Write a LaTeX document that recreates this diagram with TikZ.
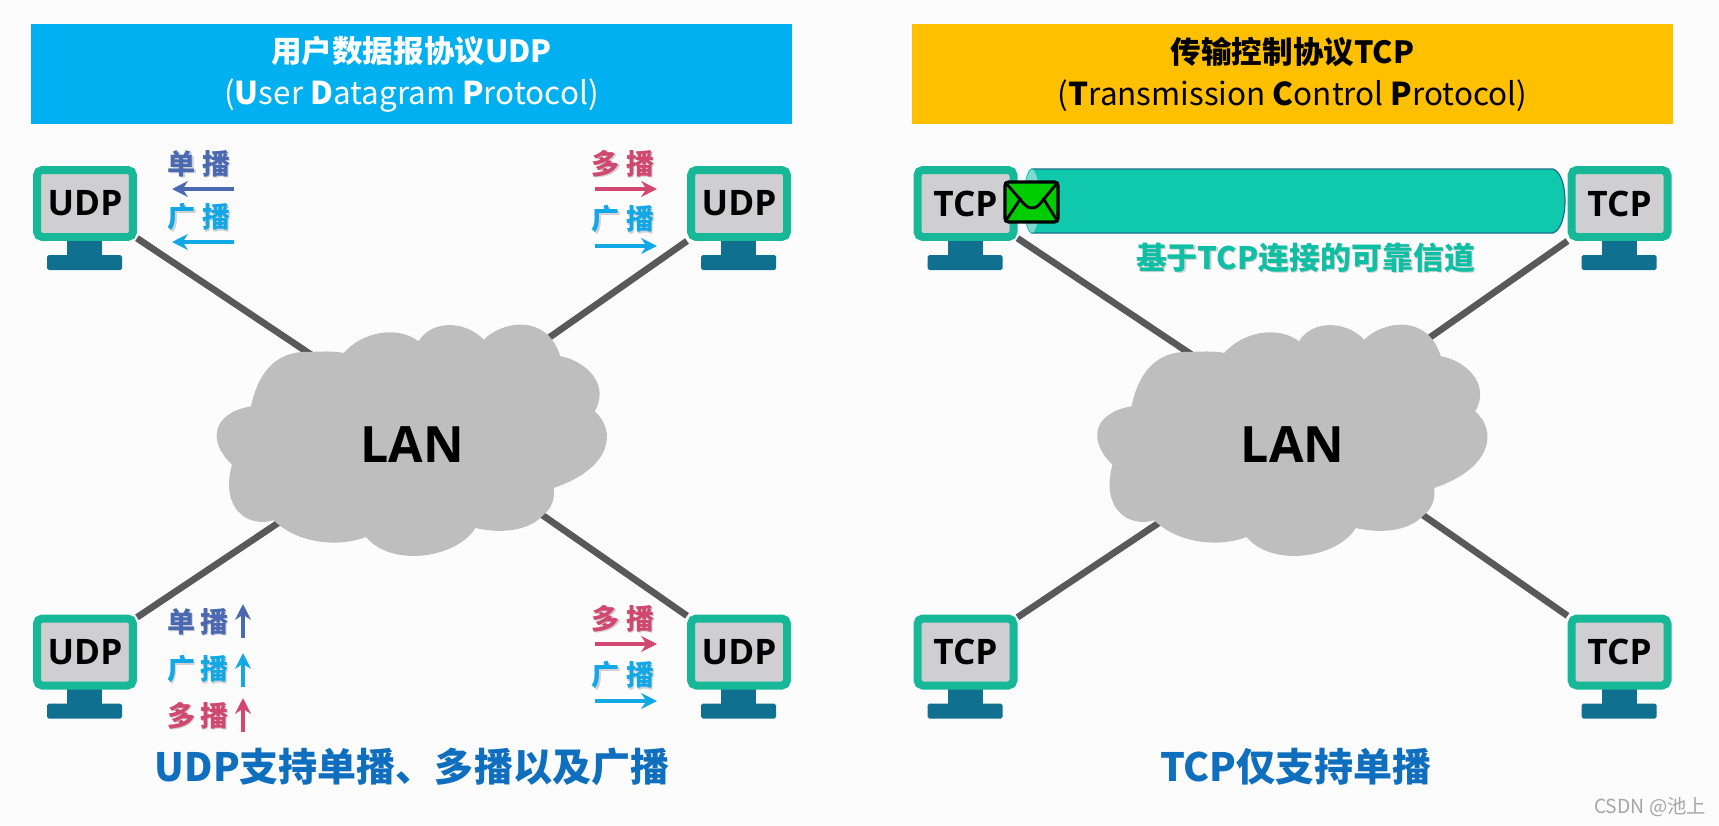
\documentclass[tikz,border=0pt]{standalone}
\usepackage{fontspec}
\setmainfont{Noto Sans CJK SC}
\newfontfamily\latinfont{Open Sans}
\usetikzlibrary{arrows.meta,backgrounds}
\definecolor{bluehead}{HTML}{00B0F0}
\definecolor{yellowhead}{HTML}{FFC000}
\definecolor{screenframe}{HTML}{17B897}
\definecolor{screenfill}{HTML}{CFCFD2}
\definecolor{standfill}{HTML}{0F7090}
\definecolor{linkgray}{HTML}{595959}
\definecolor{cloudgray}{HTML}{BEBEBE}
\definecolor{unicolor}{HTML}{4A69B0}
\definecolor{broadcolor}{HTML}{12A8E6}
\definecolor{multicolor}{HTML}{D0476F}
\definecolor{tubefill}{HTML}{10C9AC}
\definecolor{tubeend}{HTML}{7FD9D0}
\definecolor{tubeline}{HTML}{1B6E8C}
\definecolor{footblue}{HTML}{0F6FBE}
\newcommand{\softtext}[1]{\leavevmode\rlap{\kern.7pt\raisebox{-.7pt}{\textcolor{black!18}{#1}}}#1}
\tikzset{
  banner/.style={minimum width=15.22cm,minimum height=2cm,inner sep=0pt,align=center,
    font=\fontsize{17.9}{24}\selectfont},
  screen/.style={draw=screenframe,fill=screenfill,line width=4.55pt,rounded corners=3pt,
    minimum width=1.92cm,minimum height=1.34cm,inner sep=0pt,text=black,
    font=\latinfont\bfseries\fontsize{20}{20}\selectfont},
  link/.style={draw=linkgray,line width=3.8pt},
  castlabel/.style={inner sep=0pt,font=\bfseries\fontsize{16}{16}\selectfont},
  castarrow/.style={line width=2.4pt,-{Stealth[length=9pt,width=9pt]}},
  footnote/.style={inner sep=0pt,text=footblue,font=\bfseries\fontsize{22.2}{24}\selectfont},
  pics/monitor/.style={code={
    \fill[standfill] (-18,36) rectangle (17,53);
    \fill[standfill,rounded corners=1pt] (-38,51.5) rectangle (37,66.5);
    \node[screen] (-box) at (0,0) {#1};
  }},
  pics/lancloud/.style={code={
    \fill[cloudgray] (-101.7,-91) .. controls (-85,-92) and (-75,-91.5) .. (-68.3,-90)
      .. controls (-50,-111) and (-15,-118) .. (6.7,-101.7)
      .. controls (18,-122) and (52,-124) .. (71.7,-103.3)
      .. controls (90,-122) and (135,-130) .. (148.3,-86.7)
      .. controls (168,-84) and (200,-62) .. (182.7,-31.7)
      .. controls (205,-12) and (200,25) .. (141.7,45)
      .. controls (143,55) and (140,65) .. (131.7,71.7)
      .. controls (115,90) and (85,90) .. (63.3,85)
      .. controls (45,115) and (-20,125) .. (-46,94)
      .. controls (-75,105) and (-115,100) .. (-138.3,77.3)
      .. controls (-165,85) and (-192,65) .. (-180,21.7)
      .. controls (-205,-2) and (-200,-30) .. (-161,-36.7)
      .. controls (-155,-65) and (-140,-93) .. (-101.7,-91) -- cycle;
    \node[inner sep=0pt,text=black,font=\latinfont\bfseries\fontsize{28.5}{30}\selectfont] (-text) at (0,2) {LAN};
    \coordinate (-nw) at (-72,-69);
    \coordinate (-ne) at (108,-85);
    \coordinate (-sw) at (-107,62);
    \coordinate (-se) at (103,53);
  }}
}
\begin{document}
\begin{tikzpicture}[x=0.02cm,y=-0.02cm]
    \useasboundingbox (0,0) rectangle (1719,825);

    % title bars
    \node[banner,fill=bluehead,text=white] (udphead) at (411.5,74) {{\fontsize{17.4}{24}\selectfont\textbf{用户数据报协议UDP}}\\(\textbf{U}ser \textbf{D}atagram \textbf{P}rotocol)};
    \node[banner,fill=yellowhead,text=black] (tcphead) at (1292.5,74) {{\fontsize{17.4}{24}\selectfont\textbf{传输控制协议TCP}}\\(\textbf{T}ransmission \textbf{C}ontrol \textbf{P}rotocol)};

    % left network
    \pic (lanl) at (412,443) {lancloud};
    \pic (udpa) at (85,203.5) {monitor=UDP};
    \pic (udpb) at (739,203.5) {monitor=UDP};
    \pic (udpc) at (85,652) {monitor=UDP};
    \pic (udpd) at (739,652) {monitor=UDP};

    % right network
    \pic (lanr) at (1292.5,443) {lancloud};
    \pic (tcpb) at (1619.5,203.5) {monitor=TCP};
    \pic (tcpc) at (965.5,652) {monitor=TCP};
    \pic (tcpd) at (1619.5,652) {monitor=TCP};
    \pic (tcpa) at (965.5,203.5) {monitor=TCP};

    % links stay behind hosts and clouds
    \begin{scope}[on background layer]
        \fill[white!99!black] (0,0) rectangle (1719,825);
        \draw[link] (udpa-box) -- (lanl-nw);
        \draw[link] (udpb-box.south west) -- (lanl-ne);
        \draw[link] (udpc-box) -- (lanl-sw);
        \draw[link] (udpd-box) -- (lanl-se);
        \draw[link] (tcpa-box) -- (lanr-nw);
        \draw[link] (tcpb-box.south west) -- (lanr-ne);
        \draw[link] (tcpc-box) -- (lanr-sw);
        \draw[link] (tcpd-box) -- (lanr-se);
    \end{scope}

    % labels and arrows next to the UDP hosts
    \node[castlabel,text=unicolor] (auni) at (199,164) {\softtext{单\hspace{3.5pt}播}};
    \coordinate (aunis) at (234,189); \coordinate (aunie) at (172,189);
    \draw[castarrow,unicolor] (aunis) -- (aunie);
    \node[castlabel,text=broadcolor] (abro) at (199,218) {\softtext{广\hspace{3.5pt}播}};
    \coordinate (abros) at (234,242); \coordinate (abroe) at (172,242);
    \draw[castarrow,broadcolor] (abros) -- (abroe);

    \node[castlabel,text=multicolor] (bmul) at (623,164) {\softtext{多\hspace{3.5pt}播}};
    \coordinate (bmuls) at (595,189); \coordinate (bmule) at (657,189);
    \draw[castarrow,multicolor] (bmuls) -- (bmule);
    \node[castlabel,text=broadcolor] (bbro) at (623,220) {\softtext{广\hspace{3.5pt}播}};
    \coordinate (bbros) at (595,246); \coordinate (bbroe) at (657,246);
    \draw[castarrow,broadcolor] (bbros) -- (bbroe);

    \node[castlabel,text=unicolor] (cuni) at (198,622) {\softtext{单\hspace{3pt}播}};
    \coordinate (cunis) at (243,638); \coordinate (cunie) at (243,604);
    \draw[castarrow,unicolor] (cunis) -- (cunie);
    \node[castlabel,text=broadcolor] (cbro) at (198,670) {\softtext{广\hspace{3pt}播}};
    \coordinate (cbros) at (243,687); \coordinate (cbroe) at (243,653);
    \draw[castarrow,broadcolor] (cbros) -- (cbroe);
    \node[castlabel,text=multicolor] (cmul) at (198,716) {\softtext{多\hspace{3pt}播}};
    \coordinate (cmuls) at (243,732); \coordinate (cmule) at (243,698);
    \draw[castarrow,multicolor] (cmuls) -- (cmule);

    \node[castlabel,text=multicolor] (dmul) at (623,619) {\softtext{多\hspace{3.5pt}播}};
    \coordinate (dmuls) at (595,644); \coordinate (dmule) at (657,644);
    \draw[castarrow,multicolor] (dmuls) -- (dmule);
    \node[castlabel,text=broadcolor] (dbro) at (623,676) {\softtext{广\hspace{3.5pt}播}};
    \coordinate (dbros) at (595,701); \coordinate (dbroe) at (657,701);
    \draw[castarrow,broadcolor] (dbros) -- (dbroe);

    % channel between the two upper TCP hosts
    \filldraw[fill=tubefill,draw=tubeline,line width=0.7pt] (1032,169) -- (1553,169) .. controls (1561,172) and (1565,186) .. (1565,201) .. controls (1565,216) and (1561,230) .. (1553,233) -- (1032,233) -- cycle;
    \filldraw[fill=tubeend,draw=tubefill,line width=0.5pt] (1032,201) ellipse (8 and 32);
    \node[inner sep=0pt,text=tubefill!95!black,font=\bfseries\fontsize{17.6}{20}\selectfont] (chan) at (1305.5,258) {\softtext{基于TCP连接的可靠信道}};

    % envelope
    \filldraw[fill=green!80!black,draw=black,line width=1.8pt,rounded corners=2pt] (1005,182) rectangle (1058,222);
    \draw[black,line width=1.6pt,line join=round] (1005,182) -- (1025,205) .. controls (1029,209) and (1035,209) .. (1039,205) -- (1058,182);
    \draw[black,line width=1.6pt] (1005,222) -- (1021,198);
    \draw[black,line width=1.6pt] (1058,222) -- (1043,198);

    % closing remarks
    \node[footnote] (udpnote) at (412,767) {UDP支持单播、多播以及广播};
    \node[footnote] (tcpnote) at (1296,767) {TCP仅支持单播};
    \node[inner sep=0pt,text=black!35,font=\fontsize{11}{12}\selectfont] (mark) at (1650,807) {CSDN @池上};
\end{tikzpicture}
\end{document}
